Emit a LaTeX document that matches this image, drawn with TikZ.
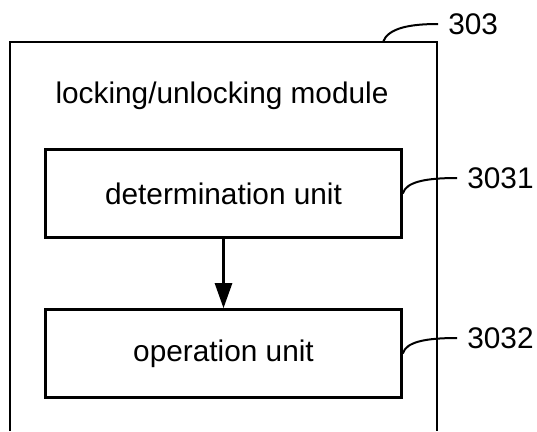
\documentclass[tikz,border=0pt]{standalone}
\usepackage{fontspec}
\setmainfont{Liberation Sans}
\usetikzlibrary{arrows.meta, positioning}

\begin{document}
\begin{tikzpicture}[x=1pt, y=-1pt, line width=2.6pt,
  txt/.style={font=\fontsize{29.8}{34}\selectfont, inner sep=0pt},
  unit/.style={txt, draw, minimum width=356pt, minimum height=88pt},
  refnum/.style={txt, anchor=west, inner xsep=9pt}]
\useasboundingbox (0,0) rectangle (537,431);

% module frame, open at the bottom
\coordinate (ml) at (10,431);
\coordinate (mr) at (437,431);
\draw (ml) -- (10,42) -- (437,42) -- (mr);
\node[txt, anchor=base] (title) at (222,103) {locking/unlocking module};

\node[unit] (det) at (223.5,193.5) {determination unit};
\node[unit] (op) at (223.5,353.5) {operation unit};
\draw[-{Triangle[length=25pt, width=17pt]}] (det) -- (op);

% reference numerals
\node[refnum] (n303) at (438,24) {303};
\node[refnum] (n3031) at (457,178) {3031};
\node[refnum] (n3032) at (457,338) {3032};
\coordinate (c303) at (383,42);
\draw[line width=2pt] (c303) .. controls (388,28) and (410,24) .. (n303.west);
\draw[line width=2pt] (det.east) .. controls (406,182) and (425,178) .. (n3031.west);
\draw[line width=2pt] (op.east) .. controls (406,342) and (425,338) .. (n3032.west);

\end{tikzpicture}
\end{document}
